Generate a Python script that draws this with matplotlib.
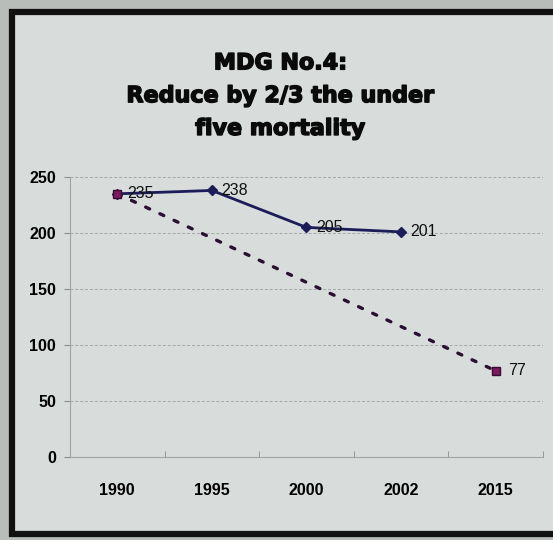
import numpy as np
import matplotlib
matplotlib.use("Agg")
from matplotlib import pyplot as plt
from matplotlib.patches import Rectangle
from matplotlib import patheffects as pe

# Datos: mortalidad de menores de cinco años
anios = ["1990", "1995", "2000", "2002", "2015"]
real = [235, 238, 205, 201, np.nan]
meta = [235, np.nan, np.nan, np.nan, 77]

fig = plt.figure(figsize=(5.53, 5.40), dpi=100)
fig.patch.set_facecolor("#b9bdba")

# Cartel con marco negro
panel = Rectangle((0.022, 0.012), 1.2, 0.965, transform=fig.transFigure,
                  facecolor="#d8dcdb", edgecolor="#111111", linewidth=4.5,
                  zorder=-5)
fig.patches.append(panel)

ax = fig.add_axes([0.1266, 0.1537, 0.855, 0.5185])
ax.set_facecolor("none")
ax.set_zorder(2)

x = np.arange(len(anios))

# Serie real
r = np.array(real, dtype=float)
ok = ~np.isnan(r)
ax.plot(x[ok], r[ok], color="#1c1c58", linewidth=2, marker="D",
        markersize=5.5, zorder=3)

# Meta: línea punteada entre 1990 y 2015
m = np.array(meta, dtype=float)
okm = ~np.isnan(m)
ax.plot(x[okm], m[okm], color="#2a1030", linewidth=2.4,
        linestyle=(0, (1.3, 3.4)), dash_capstyle="round", zorder=2)
ax.plot(x[okm], m[okm], linestyle="none", marker="s", markersize=6,
        markerfacecolor="#7a1a60", markeredgecolor="#3a0a30", zorder=4)

# Etiquetas de valores
for xi, v in zip(x[ok], r[ok]):
    ax.annotate(f"{v:.0f}", (xi, v), xytext=(7, 0), textcoords="offset points",
                va="center", ha="left", fontsize=11.5,
                family="Liberation Sans", color="#111111", zorder=5)
ax.annotate(f"{m[4]:.0f}", (x[4], m[4]), xytext=(9, 0),
            textcoords="offset points", va="center", ha="left", fontsize=11.5,
            family="Liberation Sans", color="#111111", zorder=5)

ax.set_xlim(-0.5, len(anios) - 0.5)
ax.set_ylim(0, 250)
ax.set_yticks(range(0, 251, 50))
ax.set_yticklabels([str(v) for v in range(0, 251, 50)],
                   fontsize=11.5, fontweight="bold", family="Liberation Sans")
ax.set_xticks(x)
ax.set_xticklabels(anios, fontsize=11.5, fontweight="bold",
                   family="Liberation Sans")
ax.set_xticks(np.arange(-0.5, len(anios)), minor=True)

ax.tick_params(axis="x", which="major", length=0, pad=19)
ax.tick_params(axis="x", which="minor", length=4, color="#8a8e8c",
               direction="in")
ax.tick_params(axis="y", length=4, color="#8a8e8c", pad=6)

ax.grid(axis="y", color="#a4a8a6", linewidth=0.7, linestyle=(0, (3, 2)))
for lado in ["top", "right"]:
    ax.spines[lado].set_visible(False)
for lado in ["left", "bottom"]:
    ax.spines[lado].set_color("#a0a4a2")
    ax.spines[lado].set_linewidth(0.8)

# Título
fig.text(0.507, 0.822, "MDG No.4:\nReduce by 2/3 the under\nfive mortality",
         ha="center", va="center", fontsize=16, fontweight="bold",
         family="DejaVu Sans", linespacing=1.8, color="#0a0a0a",
         path_effects=[pe.withStroke(linewidth=1.1, foreground="#0a0a0a")])

fig.savefig("out.png", dpi=100, facecolor=fig.get_facecolor())
